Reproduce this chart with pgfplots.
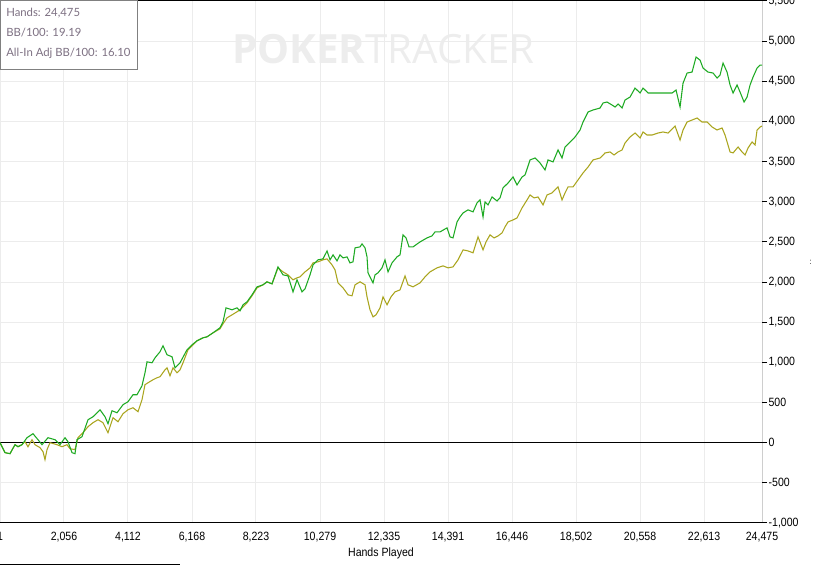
\documentclass[border=0pt]{standalone}
\usepackage{fontspec}
\setmainfont{Liberation Sans}
\newfontfamily\tickfont[FakeStretch=0.88]{Liberation Sans}
\newfontfamily\boxfont{Lato}
\newfontfamily\wmfont{Open Sans}
\usepackage{graphicx}
\usepackage{pgfplots}
\pgfplotsset{compat=1.18}
\definecolor{netgreen}{RGB}{30,170,35}
\definecolor{aiyellow}{RGB}{170,165,30}
\definecolor{boxtext}{RGB}{125,112,130}
\definecolor{gridc}{RGB}{236,236,236}

\pgfplotstableread{
x y
1 0
162 -124
322 -137
483 -25
579 -50
708 -25
868 62
1061 112
1222 37
1350 -25
1543 62
1768 37
1928 -25
2089 62
2185 12
2314 -124
2410 -137
2474 37
2635 75
2828 286
2988 323
3213 410
3374 323
3470 236
3598 398
3759 373
3952 473
4112 510
4273 597
4401 597
4562 709
4658 871
4723 1007
4883 995
4980 1057
5140 1132
5237 1207
5365 1095
5526 1070
5622 933
5783 995
6007 1157
6168 1219
6328 1269
6521 1306
6650 1318
6843 1368
7067 1431
7164 1505
7260 1679
7453 1655
7613 1679
7710 1642
7806 1717
7935 1754
8095 1841
8256 1941
8449 1966
8577 2003
8738 1978
8930 2189
9091 2090
9252 2077
9412 1878
9541 2028
9701 1878
9798 1916
9958 2090
10055 2214
10215 2277
10376 2289
10504 2388
10601 2277
10697 2339
10826 2264
10922 2339
11018 2301
11147 2314
11243 2239
11339 2252
11404 2426
11564 2438
11628 2476
11725 2426
11789 2314
11821 2115
11885 2065
11982 1990
12046 2090
12142 2115
12271 2177
12367 2277
12464 2127
12592 2239
12753 2314
12849 2339
12945 2588
13042 2550
13138 2438
13267 2438
13491 2500
13716 2550
13877 2575
13973 2625
14134 2625
14358 2675
14455 2563
14551 2550
14680 2749
14776 2811
14873 2861
15033 2899
15194 2874
15322 2986
15419 3023
15515 2811
15579 2998
15675 2961
15804 3060
15965 3010
16061 3048
16157 3172
16318 3234
16479 3309
16607 3210
16768 3309
16864 3334
17025 3521
17185 3545
17346 3483
17506 3396
17603 3521
17763 3496
17924 3645
18052 3545
18149 3682
18309 3744
18470 3807
18631 3894
18727 3993
18888 4118
19048 4143
19273 4167
19369 4230
19498 4242
19658 4205
19755 4180
19851 4217
19980 4167
20076 4267
20237 4304
20397 4416
20558 4354
20654 4416
20815 4354
20975 4354
21200 4354
21361 4354
21586 4354
21714 4391
21843 4180
21939 4478
22068 4603
22228 4615
22357 4802
22485 4764
22581 4665
22742 4615
22903 4603
23031 4541
23127 4578
23224 4727
23352 4615
23449 4454
23545 4354
23674 4454
23770 4366
23899 4242
23995 4304
24091 4454
24188 4553
24316 4665
24412 4702
24475 4702
}\netwon

\pgfplotstableread{
x y
1 0
162 -124
322 -137
483 -25
579 -50
708 -25
804 12
900 -50
1029 37
1125 -25
1286 -62
1382 -112
1446 -211
1511 -87
1607 0
1832 -25
1992 -50
2153 -25
2249 -75
2410 -87
2506 62
2667 124
2828 199
2988 249
3149 286
3309 249
3470 124
3631 311
3791 261
3952 361
4112 410
4273 435
4434 386
4562 535
4658 722
4755 746
4915 784
5044 809
5140 821
5301 908
5365 933
5461 833
5558 933
5686 871
5783 908
5879 995
6040 1157
6168 1207
6328 1269
6521 1306
6650 1318
6843 1368
7067 1418
7164 1480
7292 1555
7453 1592
7613 1630
7710 1655
7806 1692
7935 1742
8095 1829
8256 1928
8449 1966
8577 2003
8738 1978
8930 2177
9091 2127
9252 2090
9412 2028
9541 2053
9637 2065
9798 2127
9958 2177
10055 2239
10215 2252
10376 2277
10504 2289
10665 2214
10761 2152
10858 1990
11018 1928
11179 1841
11307 1829
11404 1966
11564 2003
11725 1966
11789 1816
11885 1655
11982 1567
12078 1592
12207 1679
12303 1816
12431 1717
12560 1816
12688 1878
12849 1903
13010 2077
13106 1966
13267 1941
13491 1990
13652 2065
13813 2127
14037 2177
14230 2202
14391 2177
14551 2189
14712 2277
14873 2401
15033 2388
15194 2364
15354 2563
15515 2401
15611 2500
15740 2588
15868 2550
15997 2575
16125 2612
16221 2687
16318 2749
16479 2774
16607 2799
16768 2923
16928 3023
17025 3085
17153 3048
17282 3060
17442 2961
17571 3085
17731 3110
17924 3185
18052 3023
18149 3110
18245 3185
18406 3185
18566 3272
18727 3359
18888 3433
19048 3521
19273 3545
19434 3608
19594 3620
19723 3583
19851 3620
19980 3645
20076 3732
20237 3807
20397 3856
20558 3794
20654 3869
20783 3831
20943 3831
21136 3856
21296 3869
21457 3856
21682 3943
21843 3769
21939 3894
22068 3993
22228 4018
22389 4043
22549 3993
22710 3993
22871 3931
23031 3894
23192 3919
23288 3831
23449 3620
23545 3608
23706 3682
23834 3620
23931 3583
24027 3670
24155 3744
24252 3707
24316 3894
24412 3931
24475 3943
}\allinadj

\begin{document}
\begin{tikzpicture}[x=1pt,y=1pt]
\useasboundingbox (0,0) rectangle (609.75,424.5);
\node[anchor=center, text=black!7, font=\wmfont, inner sep=0] at (287.6,387.75) {\resizebox{227pt}{!}{\textbf{POKER}TRACKER}};
\begin{axis}[
  at={(0pt,32.25pt)}, anchor=south west,
  scale only axis, width=571.5pt, height=391.5pt,
  xmin=1, xmax=24475, ymin=-1000, ymax=5500,
  scaled x ticks=false, scaled y ticks=false,
  axis line style={draw=none},
  grid=major, grid style={gridc, line width=0.75pt},
  xtick={1,2056,4112,6168,8223,10279,12335,14391,16446,18502,20558,22613,24475},
  xticklabels={1,{2,056},{4,112},{6,168},{8,223},{10,279},{12,335},{14,391},{16,446},{18,502},{20,558},{22,613},{24,475}},
  ytick={-1000,-500,...,5500},
  xtick pos=bottom, ytick pos=right, yticklabel pos=right,
  tick align=outside, major tick length=3.75pt,
  y tick style={black, line width=0.75pt},
  x tick style={draw=none},
  /pgf/number format/.cd, 1000 sep={,}, assume math mode=true,
  /pgfplots/.cd,
  ticklabel style={font=\tickfont\fontsize{9}{10}\selectfont, text=black},
  yticklabel style={inner sep=1pt},
  xticklabel style={inner sep=1pt, yshift=-2pt},
  xlabel={Hands Played},
  x label style={at={(axis description cs:0.5,0)}, anchor=center, yshift=-22.5pt, font=\tickfont\fontsize{9}{10}\selectfont},
  clip=true,
]
\draw[black, line width=0.75pt] (axis cs:1,0) -- (axis cs:24475,0);
\addplot[aiyellow, line width=0.8pt] table {\allinadj};
\addplot[netgreen, line width=0.8pt] table {\netwon};
\draw[black, line width=0.75pt] (rel axis cs:0,0) -- (rel axis cs:1,0) -- (rel axis cs:1,1) -- (rel axis cs:0,1);
\end{axis}
\filldraw[fill=white, draw=black!50, line width=0.75pt] (0,423.75) rectangle (102.75,372);
\node[anchor=west, text=boxtext, font=\boxfont\fontsize{8.5}{10}\selectfont, inner sep=0] at (4.5,414.75) {Hands: 24,475};
\node[anchor=west, text=boxtext, font=\boxfont\fontsize{8.5}{10}\selectfont, inner sep=0] at (4.5,399.75) {BB/100: 19.19};
\node[anchor=west, text=boxtext, font=\boxfont\fontsize{8.5}{10}\selectfont, inner sep=0] at (4.5,384.75) {All-In Adj BB/100: 16.10};
\draw[black, line width=0.75pt] (0,0.75) -- (135,0.75);
\node[inner sep=0, font=\tickfont\fontsize{6}{6}\selectfont] at (608,228) {:};
\end{tikzpicture}
\end{document}
